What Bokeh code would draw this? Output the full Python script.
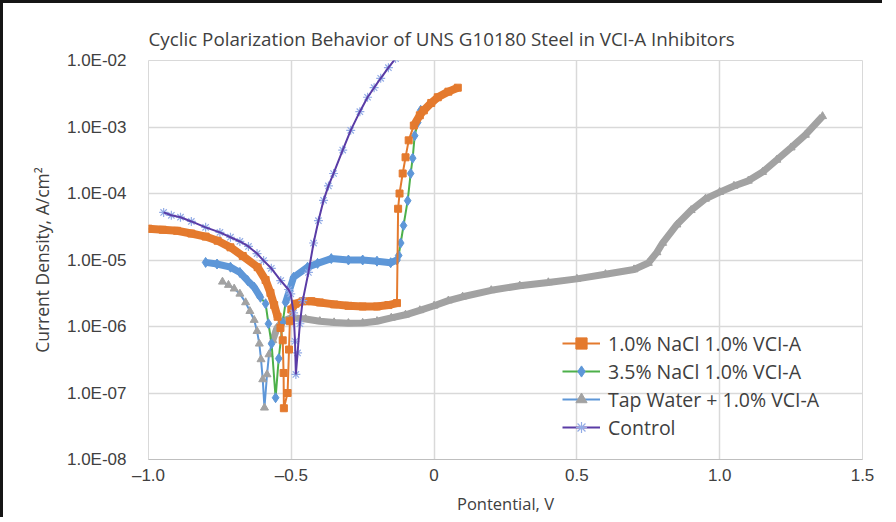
from bokeh.plotting import figure
from bokeh.models import FixedTicker, Legend, LegendItem, Label
from bokeh.embed import file_html
from bokeh.resources import INLINE

# ---------------- data ----------------
title_text = "Cyclic Polarization Behavior of UNS G10180 Steel in VCI-A Inhibitors"
x_label = "Pontential, V"
x_label_sub = "SCE"
y_label = "Current Density, A/cm\u00b2"

x_tick_values = [-1.0, -0.5, 0.0, 0.5, 1.0, 1.5]
x_tick_labels = ["\u20131.0", "\u20130.5", "0", "0.5", "1.0", "1.5"]
y_tick_values = [1e-8, 1e-7, 1e-6, 1e-5, 1e-4, 1e-3, 1e-2]
y_tick_labels = ["1.0E-08", "1.0E-07", "1.0E-06", "1.0E-05", "1.0E-04", "1.0E-03", "1.0E-02"]

series_names = ["1.0% NaCl 1.0% VCI-A", "3.5% NaCl 1.0% VCI-A",
                "Tap Water + 1.0% VCI-A", "Control"]

# 1.0% NaCl 1.0% VCI-A
nacl1_v = [-1.00, -0.95, -0.90, -0.85, -0.80, -0.758, -0.713, -0.67, -0.618, -0.59,
           -0.573, -0.56, -0.548, -0.538, -0.530, -0.527, -0.526,
           -0.513, -0.508, -0.505, -0.50, -0.485, -0.46, -0.43, -0.40, -0.35,
           -0.30, -0.25, -0.20, -0.16, -0.13,
           -0.126, -0.121, -0.11, -0.10, -0.089, -0.071, -0.05, -0.036, -0.01,
           0.013, 0.05, 0.083]
nacl1_i = [2.95e-5, 2.85e-5, 2.75e-5, 2.5e-5, 2.25e-5, 1.95e-5, 1.55e-5, 1.15e-5, 7.8e-6, 5.0e-6,
           3.2e-6, 2.1e-6, 1.4e-6, 9.5e-7, 6.2e-7, 2.0e-7, 5.9e-8,
           1.0e-7, 4.5e-7, 1.2e-6, 1.8e-6, 2.2e-6, 2.4e-6, 2.4e-6, 2.3e-6, 2.15e-6,
           2.05e-6, 2.0e-6, 2.0e-6, 2.1e-6, 2.25e-6,
           5.9e-5, 1.0e-4, 2.0e-4, 3.5e-4, 6.3e-4, 1.05e-3, 1.5e-3, 1.78e-3, 2.3e-3,
           2.8e-3, 3.4e-3, 3.9e-3]

# 3.5% NaCl 1.0% VCI-A
nacl35_v = [-0.80, -0.76, -0.713, -0.68, -0.653, -0.63, -0.608, -0.59, -0.58, -0.569, -0.555,
            -0.544, -0.530, -0.52, -0.492, -0.443, -0.408, -0.36, -0.30, -0.25, -0.20,
            -0.152, -0.13, -0.124, -0.117, -0.107, -0.0925, -0.082, -0.075, -0.068,
            -0.0575, -0.047]
nacl35_i = [9.2e-6, 8.7e-6, 7.8e-6, 6.5e-6, 4.9e-6, 3.9e-6, 2.75e-6, 2.2e-6, 1.1e-6, 5.5e-7, 8.5e-8,
            3.3e-7, 1.15e-6, 2.3e-6, 5.5e-6, 7.8e-6, 8.9e-6, 1.05e-5, 1.0e-5, 1.0e-5, 9.6e-6,
            9.1e-6, 1.0e-5, 1.17e-5, 1.8e-5, 3.3e-5, 7.8e-5, 2.0e-4, 3.4e-4, 7.4e-4,
            1.17e-3, 1.78e-3]

# Tap Water + 1.0% VCI-A
tap_v = [-0.741, -0.72, -0.70, -0.68, -0.66, -0.645, -0.63, -0.62, -0.612, -0.606, -0.60, -0.594,
         -0.585, -0.578, -0.565, -0.55, -0.53, -0.50, -0.45, -0.40, -0.35, -0.30, -0.25,
         -0.20, -0.15, -0.10, -0.05, 0.0, 0.05, 0.10, 0.20, 0.30, 0.40, 0.50, 0.60, 0.70,
         0.75, 0.78, 0.80, 0.85, 0.90, 0.95, 1.00, 1.05, 1.10, 1.15, 1.20, 1.25, 1.30, 1.36]
tap_i = [4.7e-6, 4.2e-6, 3.7e-6, 3.1e-6, 2.3e-6, 1.7e-6, 1.25e-6, 8.5e-7, 5.5e-7, 3.2e-7, 1.6e-7, 6.0e-8,
         1.9e-7, 3.8e-7, 6.2e-7, 9.5e-7, 1.2e-6, 1.35e-6, 1.3e-6, 1.2e-6, 1.15e-6, 1.12e-6, 1.13e-6,
         1.2e-6, 1.35e-6, 1.5e-6, 1.75e-6, 2.05e-6, 2.45e-6, 2.8e-6, 3.5e-6, 4.1e-6, 4.6e-6, 5.2e-6,
         6.1e-6, 7.2e-6, 9.0e-6, 1.3e-5, 1.8e-5, 3.4e-5, 5.6e-5, 8.3e-5, 1.05e-4, 1.3e-4, 1.55e-4,
         2.1e-4, 3.2e-4, 4.9e-4, 7.6e-4, 1.45e-3]

# Control
ctrl_v = [-0.947, -0.92, -0.888, -0.85, -0.80, -0.75, -0.713, -0.68, -0.65, -0.62, -0.597,
          -0.57, -0.537, -0.51, -0.502, -0.492, -0.487, -0.484,
          -0.478, -0.47, -0.46, -0.44, -0.422, -0.405, -0.387, -0.37, -0.352, -0.32, -0.292,
          -0.26, -0.233, -0.21, -0.187, -0.16, -0.135]
ctrl_i = [5.2e-5, 4.7e-5, 4.4e-5, 3.8e-5, 3.1e-5, 2.6e-5, 2.2e-5, 1.9e-5, 1.6e-5, 1.25e-5, 9.8e-6,
          7.5e-6, 4.9e-6, 3.6e-6, 3.1e-6, 1.6e-6, 6.0e-7, 1.9e-7,
          4.0e-7, 1.1e-6, 2.45e-6, 6.5e-6, 1.8e-5, 3.9e-5, 7.9e-5, 1.3e-4, 2.0e-4, 4.5e-4, 8.9e-4,
          1.7e-3, 2.8e-3, 3.9e-3, 5.4e-3, 7.8e-3, 1.07e-2]

# ---------------- styling ----------------
ORANGE = "#E47A2E"
GREEN = "#4DB04A"
BLUE = "#5E97D8"
GRAY = "#A2A2A2"
PURPLE = "#5A3CA6"
LIGHTBLUE = "#93ACE6"
TEXT = "#404040"
GRID = "#D9D9D9"
HUMAN = "Open Sans"
TICKF = "Liberation Sans"

p = figure(frame_width=714, frame_height=399,
           x_range=(-1.0, 1.5), y_range=(1e-8, 1e-2), y_axis_type="log",
           output_backend="svg", toolbar_location=None,
           min_border_left=145, min_border_right=20, min_border_top=57, min_border_bottom=56)
p.styles = {"border-top": "3px solid #151515", "border-left": "3px solid #151515"}
p.background_fill_color = "white"
p.border_fill_color = "white"
p.outline_line_color = GRID

p.title.text = title_text
p.title.align = "left"
p.title.text_font = HUMAN
p.title.text_font_size = "18.8px"
p.title.text_font_style = "normal"
p.title.text_color = TEXT
p.title.standoff = 17

p.xaxis.ticker = FixedTicker(ticks=x_tick_values)
p.yaxis.ticker = FixedTicker(ticks=y_tick_values)
p.xaxis.major_label_overrides = {v: s for v, s in zip(x_tick_values, x_tick_labels)}
p.yaxis.major_label_overrides = {v: s for v, s in zip(y_tick_values, y_tick_labels)}
for ax in (p.xaxis, p.yaxis):
    ax.major_tick_line_color = None
    ax.minor_tick_line_color = None
    ax.major_label_text_font = TICKF
    ax.major_label_text_font_size = "17px"
    ax.major_label_text_color = TEXT
    ax.axis_label_text_font = HUMAN
    ax.axis_label_text_font_style = "normal"
    ax.axis_label_text_color = TEXT
p.yaxis.axis_label_text_font_size = "17.5px"
p.xaxis.axis_label_text_font_size = "16.5px"
p.yaxis.axis_line_color = None
p.xaxis.axis_line_color = "#BFBFBF"
p.yaxis.major_label_standoff = 16
p.xaxis.major_label_standoff = 0
p.yaxis.axis_label = y_label
p.yaxis.axis_label_standoff = 10
p.xaxis.axis_label = x_label
p.xaxis.axis_label_standoff = 4
p.xgrid.ticker = FixedTicker(ticks=x_tick_values)
p.ygrid.ticker = FixedTicker(ticks=y_tick_values)
p.xgrid.grid_line_color = GRID
p.ygrid.grid_line_color = GRID
p.xgrid.grid_line_width = 1.5
p.ygrid.grid_line_width = 1.5

# subscript of the x axis label, placed just right of "V" below the frame
p.add_layout(Label(x=0.428, y=1.7e-9, x_units="data", y_units="data", text=x_label_sub,
                   text_align="left", text_baseline="alphabetic", text_font=HUMAN,
                   text_font_size="10.5px", text_color=TEXT))

BAND = 7

# Tap water (drawn first: underneath)
tap_line = p.line(tap_v, tap_i, line_color=BLUE, line_width=2)
p.line(tap_v[14:], tap_i[14:], line_color=GRAY, line_width=BAND)
tap_pts = p.scatter(tap_v, tap_i, marker="triangle", size=8, fill_color=GRAY, line_color=GRAY)

# 3.5% NaCl
n35_line = p.line(nacl35_v, nacl35_i, line_color=GREEN, line_width=2)
p.line(nacl35_v[:7], nacl35_i[:7], line_color=BLUE, line_width=BAND)
p.line(nacl35_v[13:23], nacl35_i[13:23], line_color=BLUE, line_width=BAND)
n35_pts = p.scatter(nacl35_v, nacl35_i, marker="diamond", size=10, fill_color=BLUE, line_color=BLUE)

# 1.0% NaCl
n1_line = p.line(nacl1_v, nacl1_i, line_color=ORANGE, line_width=2)
p.line(nacl1_v[:13], nacl1_i[:13], line_color=ORANGE, line_width=BAND + 1)
p.line(nacl1_v[20:31], nacl1_i[20:31], line_color=ORANGE, line_width=BAND + 1)
p.line(nacl1_v[36:], nacl1_i[36:], line_color=ORANGE, line_width=BAND + 1)
n1_pts = p.scatter(nacl1_v, nacl1_i, marker="square", size=7, fill_color=ORANGE, line_color=ORANGE)

# Control
ctrl_pts = p.scatter(ctrl_v, ctrl_i, marker="asterisk", size=9, line_color=LIGHTBLUE, line_width=1.2)
ctrl_line = p.line(ctrl_v, ctrl_i, line_color=PURPLE, line_width=2)

legend = Legend(items=[
    LegendItem(label=series_names[0], renderers=[n1_line, n1_pts]),
    LegendItem(label=series_names[1], renderers=[n35_line, n35_pts]),
    LegendItem(label=series_names[2], renderers=[tap_line, tap_pts]),
    LegendItem(label=series_names[3], renderers=[ctrl_line, ctrl_pts]),
], location=(414, 18))
legend.border_line_color = None
legend.background_fill_alpha = 0
legend.padding = 0
legend.margin = 0
legend.spacing = 0
legend.glyph_width = 38
legend.glyph_height = 28
legend.label_height = 28
legend.label_standoff = 8
legend.label_text_font = HUMAN
legend.label_text_font_size = "19.5px"
legend.label_text_color = TEXT
p.add_layout(legend)

open("out.html", "w").write(file_html(p, INLINE))
